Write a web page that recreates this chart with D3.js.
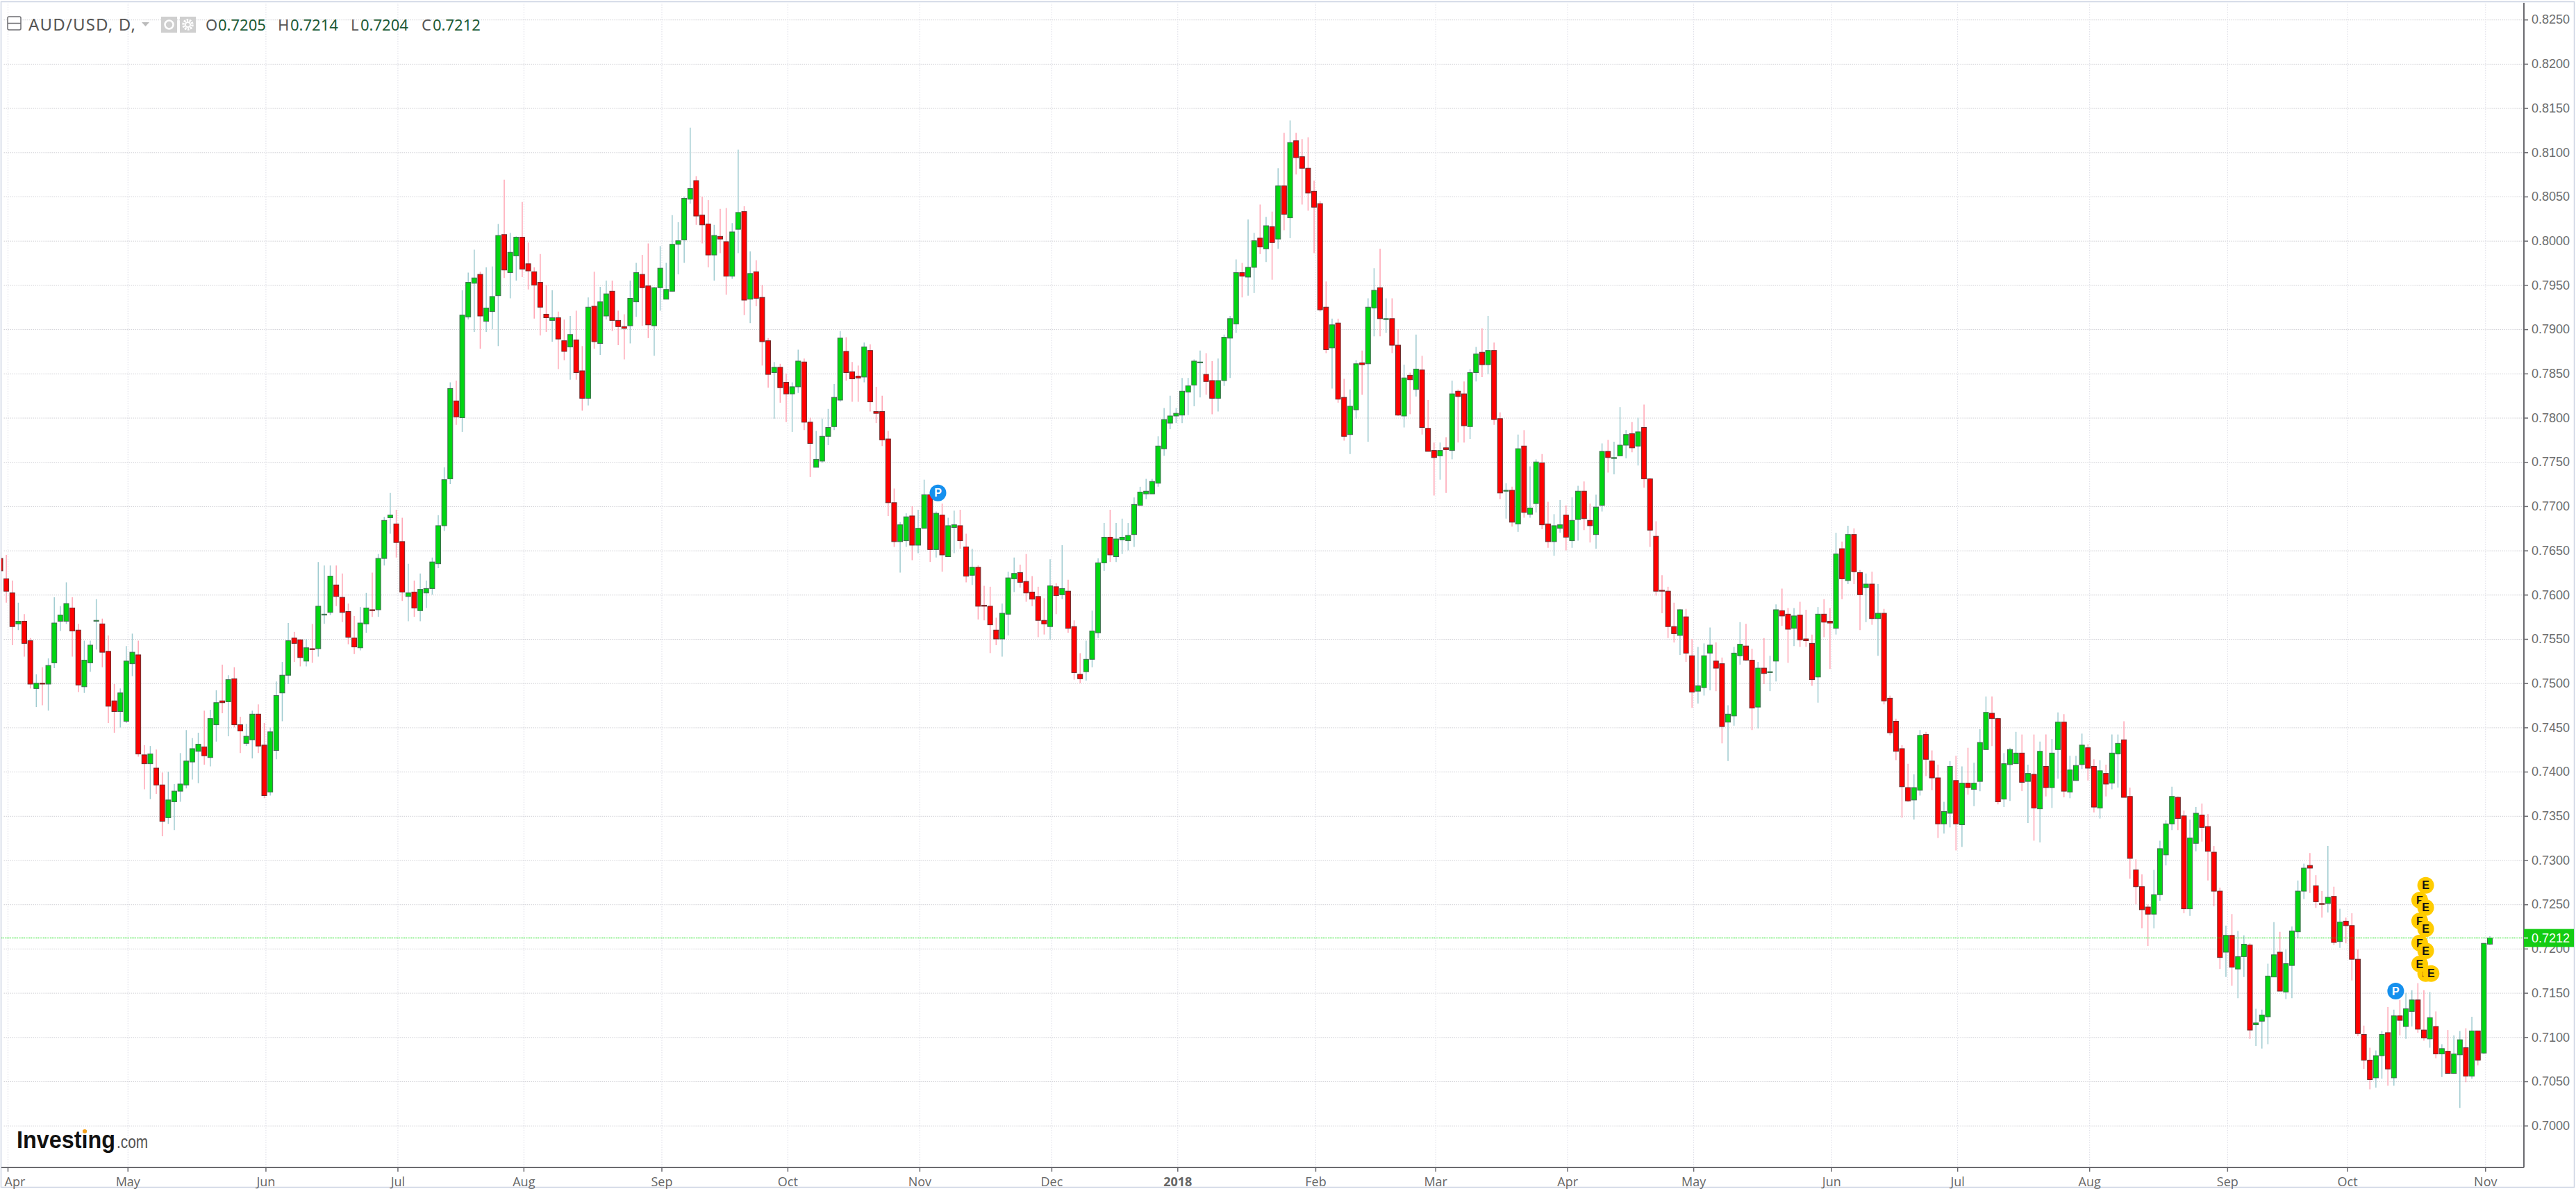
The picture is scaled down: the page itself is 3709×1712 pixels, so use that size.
<!DOCTYPE html>
<html><head><meta charset="utf-8">
<script src="https://cdn.jsdelivr.net/npm/d3@7/dist/d3.min.js"></script>
<style>html,body{margin:0;padding:0;background:#fff}svg{display:block}</style>
</head><body><div id="chart"></div>
<script>
// AUD/USD daily candles, prices in 1/10000 (pips)
const opens=[7641,
7618,7602,7567,7570,7548,7494,7500,7499,7523,7570,
7570,7585,7560,7496,7523,7570,7567,7536,7480,7468,
7457,7522,7532,7419,7409,7404,7385,7348,7366,7378,
7385,7411,7423,7428,7416,7453,7480,7479,7505,7453,
7432,7436,7465,7430,7377,7424,7489,7509,7551,7549,
7525,7539,7539,7577,7580,7611,7597,7581,7551,7540,
7567,7583,7583,7641,7687,7680,7660,7598,7603,7582,
7602,7607,7635,7678,7731,7819,7800,7914,7952,7962,
7909,7920,7938,8007,7964,7983,8004,7974,7965,7953,
7917,7910,7913,7887,7880,7888,7853,7822,7926,7884,
7915,7943,7910,7903,7904,7931,7962,7949,7904,7947,
7934,7943,7996,8001,8047,8068,8029,8019,7984,8005,
7999,7960,8013,8033,7934,7965,7936,7887,7851,7857,
7840,7827,7835,7863,7795,7744,7751,7779,7790,7820,
7875,7852,7847,7846,7876,7807,7807,7776,7704,7660,
7661,7689,7656,7675,7713,7651,7690,7643,7676,7678,
7654,7622,7631,7588,7587,7560,7550,7578,7618,7625,
7615,7603,7598,7571,7564,7609,7600,7604,7564,7510,
7513,7527,7557,7636,7665,7643,7662,7661,7668,7701,
7714,7714,7726,7765,7794,7802,7803,7829,7837,7862,
7849,7842,7822,7842,7890,7906,7964,7959,7970,8003,
7991,8016,8002,8062,8026,8113,8095,8082,8056,8042,
7925,7879,7907,7823,7781,7809,7862,7861,7924,7947,
7911,7912,7882,7802,7848,7832,7854,7788,7763,7757,
7766,7763,7830,7827,7790,7851,7874,7860,7876,7799,
7717,7718,7680,7768,7691,7703,7749,7680,7660,7675,
7690,7661,7685,7717,7684,7668,7701,7762,7754,7757,
7769,7782,7768,7789,7731,7666,7605,7604,7564,7554,
7575,7531,7491,7495,7534,7525,7522,7456,7463,7531,
7542,7526,7473,7517,7512,7525,7582,7578,7562,7577,
7550,7545,7507,7578,7570,7562,7652,7616,7668,7625,
7608,7612,7573,7579,7483,7457,7426,7382,7368,7379,
7442,7412,7393,7341,7353,7390,7340,7387,7380,7389,
7425,7466,7460,7369,7408,7409,7421,7389,7397,7358,
7406,7382,7425,7456,7377,7390,7408,7427,7406,7359,
7398,7387,7420,7436,7372,7289,7270,7247,7239,7261,
7306,7341,7371,7350,7245,7319,7351,7338,7309,7265,
7196,7215,7177,7191,7204,7114,7118,7123,7168,7196,
7151,7181,7219,7265,7294,7271,7251,7251,7259,7208,
7231,7226,7188,7103,7074,7054,7079,7105,7054,7124,
7112,7129,7142,7108,7098,7112,7081,7084,7059,7080,
7088,7056,7107,7082,7205];
const highs=[7645,
7645,7616,7591,7578,7551,7510,7518,7528,7597,7587,
7614,7597,7567,7548,7548,7595,7573,7554,7499,7494,
7542,7556,7548,7430,7429,7425,7399,7400,7386,7421,
7447,7438,7444,7469,7470,7492,7521,7509,7518,7462,
7454,7469,7476,7455,7450,7502,7524,7568,7558,7550,
7550,7567,7637,7633,7633,7633,7624,7590,7576,7586,
7602,7625,7646,7688,7715,7696,7687,7635,7616,7624,
7616,7642,7690,7744,7840,7842,7944,7964,7990,7965,
7970,7971,8019,8069,8009,8005,8044,7998,7970,7985,
7950,7944,7920,7911,7915,7921,7881,7936,7965,7948,
7955,7955,7921,7917,7955,7975,7984,7997,7948,7994,
7975,8029,8021,8050,8128,8073,8050,8046,8018,8036,
8037,8020,8103,8039,7988,7978,7950,7890,7863,7861,
7850,7840,7877,7867,7800,7785,7799,7810,7838,7898,
7891,7863,7859,7885,7883,7835,7825,7785,7720,7682,
7692,7700,7696,7730,7713,7694,7703,7687,7695,7696,
7669,7652,7633,7610,7609,7574,7590,7626,7642,7634,
7646,7621,7609,7596,7640,7613,7656,7617,7571,7534,
7548,7582,7641,7681,7696,7681,7686,7681,7710,7722,
7731,7731,7779,7811,7825,7811,7845,7845,7866,7876,
7873,7864,7867,7894,7915,7979,7975,8024,8009,8041,
8027,8033,8082,8122,8136,8122,8115,8117,8068,8045,
7954,7912,7912,7844,7832,7865,7876,7935,7969,7991,
7935,7935,7900,7860,7851,7894,7870,7820,7772,7772,
7778,7842,7832,7841,7855,7880,7901,7915,7885,7806,
7726,7722,7781,7786,7745,7753,7759,7705,7691,7707,
7701,7710,7723,7728,7703,7713,7771,7775,7773,7812,
7786,7795,7800,7815,7732,7683,7622,7609,7591,7584,
7584,7550,7541,7545,7563,7546,7529,7475,7541,7569,
7567,7539,7524,7551,7531,7589,7607,7585,7585,7592,
7583,7555,7586,7595,7585,7670,7660,7678,7675,7628,
7624,7626,7612,7584,7486,7460,7430,7409,7397,7447,
7445,7424,7408,7366,7412,7418,7406,7427,7410,7448,
7485,7485,7461,7421,7427,7445,7442,7408,7442,7434,
7442,7437,7467,7465,7418,7418,7443,7431,7414,7413,
7408,7442,7442,7457,7382,7301,7284,7250,7289,7322,
7345,7383,7372,7356,7346,7360,7364,7352,7316,7269,
7226,7239,7220,7215,7206,7132,7131,7183,7230,7219,
7199,7225,7277,7296,7308,7283,7265,7316,7270,7245,
7235,7240,7199,7113,7088,7085,7107,7134,7131,7142,
7150,7153,7161,7153,7151,7129,7092,7108,7102,7107,
7110,7123,7107,7206,7214];
const lows=[7625,
7591,7543,7560,7530,7494,7473,7475,7469,7517,7559,
7567,7530,7490,7489,7513,7538,7518,7455,7444,7450,
7455,7508,7417,7380,7369,7375,7327,7341,7334,7366,
7381,7391,7387,7408,7406,7434,7466,7440,7450,7421,
7429,7415,7421,7370,7373,7414,7457,7499,7524,7519,
7519,7523,7530,7567,7577,7587,7569,7544,7533,7537,
7557,7575,7575,7633,7669,7642,7593,7570,7575,7570,
7585,7600,7630,7672,7725,7792,7784,7911,7897,7878,
7897,7900,7881,7958,7935,7955,7959,7945,7912,7893,
7897,7886,7855,7865,7843,7843,7808,7814,7878,7871,
7911,7898,7882,7866,7884,7914,7904,7890,7870,7921,
7934,7943,7962,7975,8042,8018,7997,7970,7955,7986,
7939,7957,7986,7916,7907,7926,7859,7834,7799,7817,
7795,7784,7828,7786,7733,7744,7749,7769,7786,7818,
7842,7818,7818,7840,7807,7794,7768,7689,7654,7625,
7654,7639,7647,7675,7637,7642,7626,7643,7647,7652,
7614,7611,7572,7571,7534,7543,7530,7554,7603,7608,
7592,7587,7552,7555,7549,7578,7595,7557,7504,7500,
7503,7518,7551,7627,7637,7637,7646,7650,7654,7701,
7708,7714,7722,7757,7787,7794,7794,7803,7813,7823,
7826,7804,7807,7836,7845,7896,7936,7938,7941,7985,
7976,7956,7991,8012,8003,8075,8041,8034,7986,7920,
7873,7833,7817,7774,7759,7799,7826,7773,7892,7892,
7896,7873,7802,7789,7804,7824,7781,7762,7712,7730,
7715,7753,7772,7772,7776,7841,7846,7849,7792,7708,
7686,7677,7671,7687,7687,7693,7674,7653,7644,7670,
7650,7653,7661,7673,7659,7652,7694,7738,7736,7757,
7754,7761,7746,7721,7654,7599,7579,7551,7546,7532,
7524,7472,7477,7486,7492,7491,7432,7412,7452,7521,
7525,7447,7449,7499,7491,7502,7565,7523,7542,7541,
7541,7497,7478,7552,7516,7555,7595,7612,7612,7560,
7569,7566,7531,7476,7441,7413,7348,7366,7346,7373,
7395,7379,7325,7330,7337,7311,7315,7374,7361,7378,
7425,7429,7363,7360,7367,7409,7378,7342,7322,7320,
7372,7359,7392,7371,7370,7390,7403,7390,7354,7347,
7372,7380,7382,7371,7279,7250,7223,7203,7223,7254,
7294,7334,7334,7240,7237,7310,7321,7277,7248,7177,
7168,7158,7144,7168,7098,7090,7087,7092,7168,7152,
7143,7144,7212,7256,7263,7246,7235,7241,7204,7201,
7206,7164,7101,7064,7041,7043,7053,7045,7045,7102,
7098,7112,7105,7096,7088,7076,7055,7059,7059,7020,
7049,7053,7068,7081,7204];
const closes=[7627,
7604,7564,7570,7545,7499,7500,7499,7520,7568,7577,
7590,7559,7498,7526,7543,7571,7535,7474,7468,7489,
7525,7535,7420,7409,7420,7385,7344,7368,7378,7386,
7412,7426,7431,7418,7460,7478,7478,7504,7453,7446,
7440,7465,7429,7373,7445,7486,7509,7548,7545,7529,
7540,7538,7587,7578,7621,7598,7580,7552,7541,7568,
7585,7582,7641,7684,7690,7659,7603,7602,7585,7606,
7607,7637,7678,7730,7833,7801,7916,7953,7958,7915,
7924,7937,8006,7967,7987,8004,7968,7966,7950,7925,
7913,7913,7889,7875,7894,7851,7822,7925,7886,7931,
7940,7910,7903,7901,7935,7964,7947,7905,7947,7969,
7945,7996,8000,8048,8059,8028,8018,7984,8006,8002,
7960,8010,8032,7933,7963,7935,7886,7849,7857,7834,
7827,7835,7864,7795,7771,7753,7779,7789,7823,7890,
7851,7844,7845,7880,7818,7805,7775,7704,7660,7679,
7688,7656,7675,7713,7651,7692,7645,7678,7679,7661,
7621,7631,7587,7587,7566,7550,7579,7619,7624,7614,
7602,7595,7571,7567,7610,7599,7607,7562,7512,7505,
7527,7559,7636,7665,7645,7663,7665,7667,7702,7716,
7717,7728,7768,7798,7802,7805,7830,7836,7864,7863,
7841,7822,7842,7891,7912,7964,7960,7970,8000,7993,
8017,7998,8062,8030,8111,8094,8082,8054,8038,7922,
7877,7905,7821,7779,7813,7861,7860,7925,7944,7912,
7912,7882,7803,7845,7843,7855,7789,7762,7755,7763,
7764,7827,7824,7791,7851,7872,7860,7876,7798,7715,
7718,7682,7765,7693,7698,7750,7679,7660,7678,7679,
7665,7684,7717,7686,7678,7699,7762,7755,7755,7769,
7781,7766,7784,7731,7673,7604,7604,7564,7556,7583,
7534,7490,7497,7531,7543,7517,7451,7465,7534,7544,
7526,7472,7517,7511,7513,7583,7576,7561,7576,7549,
7548,7504,7578,7569,7568,7646,7618,7668,7626,7600,
7612,7573,7579,7480,7444,7423,7383,7367,7382,7441,
7414,7393,7341,7355,7406,7341,7387,7382,7387,7433,
7467,7460,7366,7409,7425,7421,7388,7398,7359,7423,
7382,7421,7456,7378,7402,7407,7430,7404,7360,7401,
7386,7421,7432,7371,7302,7270,7244,7239,7261,7313,
7341,7372,7347,7245,7325,7353,7337,7310,7265,7190,
7215,7179,7191,7205,7108,7116,7125,7169,7193,7152,
7183,7220,7265,7291,7291,7253,7250,7258,7207,7230,
7226,7188,7104,7074,7052,7079,7103,7064,7124,7119,
7132,7142,7109,7099,7122,7081,7087,7059,7081,7097,
7056,7107,7074,7206,7212];
const monthLabels=["Apr","May","Jun","Jul","Aug","Sep","Oct","Nov","Dec","2018","Feb","Mar","Apr","May","Jun","Jul","Aug","Sep","Oct","Nov"];
const monthIndex=[1,21,44,66,87,110,131,153,175,196,219,239,261,282,305,326,348,371,391,414];
const eventLetters=["P","P","E","F","E","F","E","F","E","E","E","E"];
const eventIndex=[156.3,399.3,404.3,403.3,404.3,403.3,404.3,403.3,404.3,404.3,403.3,405.2];
const eventPrice=[.77151,.7152,.72716,.72549,.72465,.72313,.72224,.72064,.71976,.71719,.71827,.71719];
const eventFill=["#1590ee","#1590ee","#ffcc00","#ffcc00","#ffcc00","#ffcc00","#ffcc00","#ffcc00","#ffcc00","#ffcc00","#ffcc00","#ffcc00"];
const lastPrice=0.7212;
const headerValues=[["O","0.7205",296,314],["H","0.7214",400,418],["L","0.7204",505,519],["C","0.7212",607,623]];

if(!(opens.length===highs.length&&highs.length===lows.length&&lows.length===closes.length))throw new Error("len "+[opens.length,highs.length,lows.length,closes.length]);

const W=3709,H=1712,axisX=3634,axisY=1681;
const x=d3.scaleLinear().domain([0,415]).range([0.46,3585]);
const y=d3.scaleLinear().domain([0.70,0.825]).range([1620.7,28.2]);
const tickShift=0.22;
const font="'Liberation Sans',Arial,sans-serif";
const svg=d3.select("#chart").append("svg").attr("width",W).attr("height",H).style("font-family",font);
svg.append("rect").attr("width",W).attr("height",H).attr("fill","#fff");
const defs=svg.append("defs");
defs.append("clipPath").attr("id","plot").append("rect").attr("x",2).attr("y",4).attr("width",axisX-2).attr("height",axisY-4);

// frame
svg.append("rect").attr("x",1.5).attr("y",2.5).attr("width",3705).attr("height",1707).attr("fill","none").attr("stroke","#ccd3e2").attr("stroke-width",1.5);

// grid
const yTicks=d3.range(0,26).map(k=>+(0.70+k*0.005).toFixed(4));
const grid=svg.append("g").attr("clip-path","url(#plot)");
grid.append("g").attr("transform",`translate(${axisX},0)`)
  .call(d3.axisLeft(y).tickValues(yTicks).tickSize(axisX-4).tickFormat(""))
  .call(g=>g.select(".domain").remove())
  .selectAll("line").attr("stroke","#cfcfd4").attr("stroke-dasharray","1.5 1.5").attr("stroke-width",1);
grid.append("g").attr("transform",`translate(0,${axisY})`)
  .call(d3.axisTop(x).tickValues(monthIndex.map(d=>d+tickShift)).tickSize(axisY-4).tickFormat(""))
  .call(g=>g.select(".domain").remove())
  .selectAll("line").attr("stroke","#dcdce6").attr("stroke-dasharray","1.5 2").attr("stroke-width",1);

// candles
const idx=d3.range(closes.length);
const px=v=>y(v/10000);
const isUp=i=>closes[i]>=opens[i];
const plot=svg.append("g").attr("clip-path","url(#plot)");
plot.append("g").selectAll("line").data(idx).join("line")
  .attr("x1",i=>x(i)).attr("x2",i=>x(i)).attr("y1",i=>px(highs[i])).attr("y2",i=>px(lows[i]))
  .attr("stroke",i=>isUp(i)?"#9fcbd0":"#ffa3b2").attr("stroke-width",1.5);
plot.append("g").selectAll("rect").data(idx).join("rect")
  .attr("x",i=>x(i)-3.5).attr("width",7)
  .attr("y",i=>px(Math.max(opens[i],closes[i])))
  .attr("height",i=>Math.max(1,Math.abs(px(opens[i])-px(closes[i]))))
  .attr("fill",i=>isUp(i)?"#00d612":"#ff0000")
  .attr("stroke",i=>isUp(i)?"#3f6a50":"#6a2a2a").attr("stroke-width",1);

// last price line
plot.append("line").attr("x1",2).attr("x2",axisX).attr("y1",y(lastPrice)).attr("y2",y(lastPrice))
  .attr("stroke","#12df12").attr("stroke-width",1).attr("stroke-dasharray","1.5 1");

// axes
const yAxis=svg.append("g").attr("transform",`translate(${axisX},0)`)
  .call(d3.axisRight(y).tickValues(yTicks).tickSize(6).tickPadding(5).tickFormat(d3.format(".4f")));
yAxis.select(".domain").attr("stroke","#6b6b70").attr("stroke-width",2).attr("d",`M0,4V${axisY}`);
yAxis.selectAll("line").attr("stroke","#6b6b70").attr("stroke-width",1.5);
yAxis.selectAll("text").attr("fill","#6e6e6e").attr("font-size",18).attr("font-family",font);

const xTicks=monthIndex.map(d=>d+tickShift);
const xAxis=svg.append("g").attr("transform",`translate(0,${axisY})`)
  .call(d3.axisBottom(x).tickValues(xTicks).tickSize(6).tickPadding(8)
    .tickFormat((d,k)=>monthLabels[k]));
xAxis.select(".domain").attr("stroke","#6b6b70").attr("stroke-width",2).attr("d",`M2,0H${axisX}`);
xAxis.selectAll("line").attr("stroke","#6b6b70").attr("stroke-width",1.5);
xAxis.selectAll("text").attr("fill","#666").attr("font-size",18).attr("font-family","'Open Sans','Noto Sans',sans-serif")
  .attr("font-weight",(d,k)=>monthLabels[k]==="2018"?"bold":"normal");
// first label would overrun the left edge: keep it whole
xAxis.selectAll("text").filter((d,k)=>k===0).attr("text-anchor","start").attr("x",-5);

// last price tag
const tag=svg.append("g");
tag.append("rect").attr("x",axisX).attr("y",y(lastPrice)-13).attr("width",72).attr("height",26).attr("fill","#13cc13");
tag.append("line").attr("x1",axisX).attr("x2",axisX+6).attr("y1",y(lastPrice)).attr("y2",y(lastPrice)).attr("stroke","#fff").attr("stroke-width",1.5);
tag.append("text").attr("x",axisX+11).attr("y",y(lastPrice)).attr("dy",".36em").attr("fill","#fff").attr("font-size",18).text(d3.format(".4f")(lastPrice));

// event bubbles
const ev=svg.append("g").selectAll("g").data(d3.range(eventLetters.length)).join("g")
  .attr("transform",k=>`translate(${x(eventIndex[k])},${y(eventPrice[k])})`);
ev.append("circle").attr("r",12).attr("fill",k=>eventFill[k]);
ev.append("text").attr("text-anchor","middle").attr("dy",".36em").attr("font-size",16).attr("font-weight","bold")
  .attr("fill",k=>eventLetters[k]==="P"?"#fff":"#111").text(k=>eventLetters[k]);

// header
const hd=svg.append("g");
hd.append("rect").attr("x",11).attr("y",24).attr("width",19).attr("height",19).attr("rx",2).attr("fill","#fff").attr("stroke","#6c6c70").attr("stroke-width",1.5);
hd.append("line").attr("x1",11).attr("x2",30).attr("y1",33.5).attr("y2",33.5).attr("stroke","#6c6c70").attr("stroke-width",1.5);
hd.append("text").attr("x",41).attr("y",44).attr("font-family","'Noto Sans',sans-serif").attr("font-size",24).attr("fill","#555").attr("textLength",154).attr("lengthAdjust","spacing").text("AUD/USD, D,");
hd.append("path").attr("d","M204,32H215L209.5,38Z").attr("fill","#bbb");
hd.append("rect").attr("x",232).attr("y",24).attr("width",23).attr("height",23).attr("fill","#cfcfcf");
hd.append("circle").attr("cx",243.5).attr("cy",35.5).attr("r",6).attr("fill","none").attr("stroke","#fff").attr("stroke-width",2.5);
hd.append("rect").attr("x",259).attr("y",24).attr("width",23).attr("height",23).attr("fill","#cfcfcf");
hd.append("circle").attr("cx",270.5).attr("cy",35.5).attr("r",6.5).attr("fill","none").attr("stroke","#fff").attr("stroke-width",3.5).attr("stroke-dasharray","2.5 1.5");
hd.append("circle").attr("cx",270.5).attr("cy",35.5).attr("r",3.5).attr("fill","none").attr("stroke","#fff").attr("stroke-width",2);
headerValues.forEach(([k,v,xk,xv])=>{
  hd.append("text").attr("x",xk).attr("y",44).attr("font-family","'Noto Sans',sans-serif").attr("font-size",22).attr("fill","#555").text(k);
  hd.append("text").attr("x",xv).attr("y",44).attr("font-family","'Noto Sans',sans-serif").attr("font-size",22).attr("fill","#1b5a36").text(v);
});

// logo
const logo=svg.append("g");
logo.append("text").attr("x",24).attr("y",1653).attr("font-size",35).attr("font-weight","bold").attr("fill","#111").attr("textLength",142).attr("lengthAdjust","spacingAndGlyphs").text("Investing");
logo.append("text").attr("x",168).attr("y",1653).attr("font-size",25).attr("fill","#555").attr("textLength",45).attr("lengthAdjust","spacingAndGlyphs").text(".com");
logo.append("circle").attr("cx",122).attr("cy",1629).attr("r",3).attr("fill","#f7a21b");
</script></body></html>
